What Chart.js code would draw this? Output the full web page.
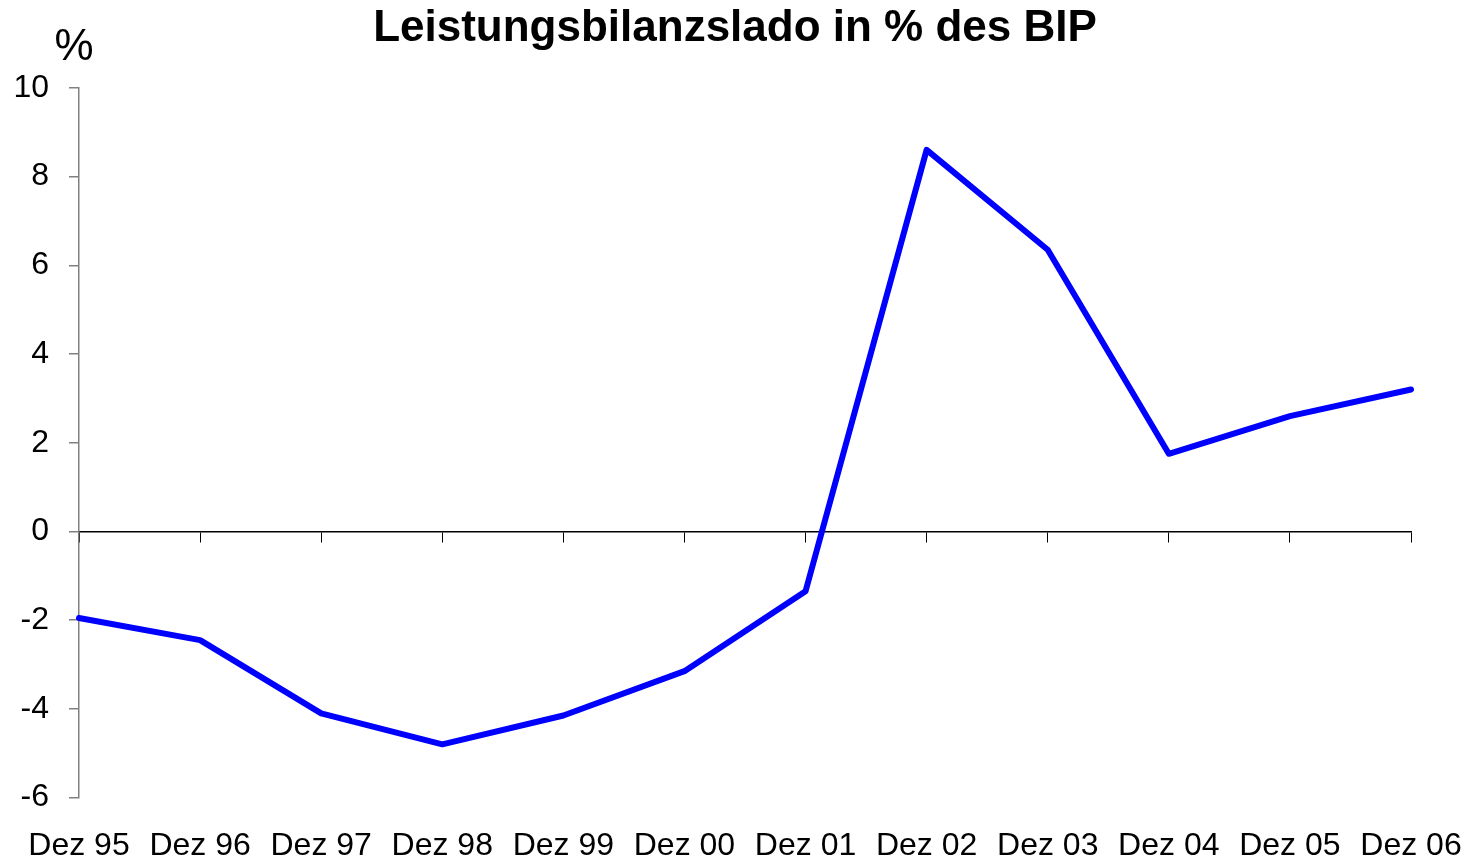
<!DOCTYPE html>
<html>
<head>
<meta charset="utf-8">
<script src="https://cdn.jsdelivr.net/npm/chart.js@4.4.1/dist/chart.umd.min.js"></script>
<style>
  html, body { margin: 0; padding: 0; background: #fff; }
  #wrap { width: 1470px; height: 865px; }
</style>
</head>
<body>
<div id="wrap"><canvas id="chart" width="1470" height="865"></canvas></div>
<script>
// Leistungsbilanzsaldo, Werte
const categories = ['Dez 95', 'Dez 96', 'Dez 97', 'Dez 98', 'Dez 99', 'Dez 00',
                    'Dez 01', 'Dez 02', 'Dez 03', 'Dez 04', 'Dez 05', 'Dez 06'];
const saldo = [-1.95, -2.45, -4.1, -4.8, -4.15, -3.15, -1.35, 8.6, 6.35, 1.75, 2.6, 3.2];
const yTicks = [-6, -4, -2, 0, 2, 4, 6, 8, 10];

const FONT = '"Liberation Sans", Arial, sans-serif';

// "%" über der y-Achse
const unitLabel = {
  id: 'unitLabel',
  afterDraw(chart) {
    const ctx = chart.ctx;
    ctx.save();
    ctx.font = '44px ' + FONT;
    ctx.fillStyle = '#000';
    ctx.textAlign = 'center';
    ctx.textBaseline = 'middle';
    ctx.fillText('%', chart.chartArea.left - 5, chart.chartArea.top - 40);
    ctx.restore();
  }
};

new Chart(document.getElementById('chart'), {
  type: 'line',
  data: {
    labels: categories,
    datasets: [{
      data: saldo,
      borderColor: '#0000FF',
      borderWidth: 6,
      pointRadius: 0,
      tension: 0,
      borderJoinStyle: 'round',
      borderCapStyle: 'round',
      xAxisID: 'x',
      yAxisID: 'y'
    }]
  },
  options: {
    responsive: false,
    animation: false,
    layout: { padding: 0 },
    plugins: {
      legend: { display: false },
      tooltip: { enabled: false },
      title: {
        display: true,
        text: 'Leistungsbilanzslado in % des BIP',
        color: '#000',
        font: { family: FONT, size: 44, weight: 'bold', lineHeight: 1.2 },
        padding: { top: 2, bottom: 33 }
      }
    },
    scales: {
      x: {
        type: 'category',
        position: 'bottom',
        offset: false,
        grid: { display: false, drawTicks: true, tickLength: 29 },
        border: { display: false },
        ticks: {
          color: '#000',
          font: { family: FONT, size: 32 },
          padding: 0,
          maxRotation: 0,
          autoSkip: false
        },
        afterFit(scale) { scale.paddingRight = 59; }
      },
      x0: {
        type: 'category',
        position: { y: 0 },
        offset: false,
        grid: { drawOnChartArea: false, drawTicks: true, tickLength: 10, color: '#000', lineWidth: 1 },
        border: { display: true, color: '#000', width: 1.5 },
        ticks: { display: false }
      },
      y: {
        min: -6,
        max: 10,
        position: 'left',
        afterBuildTicks(scale) { scale.ticks = yTicks.map(v => ({ value: v })); },
        afterFit(scale) { scale.width = 79; },
        grid: { drawOnChartArea: false, drawTicks: true, tickLength: 10, color: '#808080', lineWidth: 1.5 },
        border: { display: true, color: '#808080', width: 1.5 },
        ticks: {
          color: '#000',
          font: { family: FONT, size: 32 },
          padding: 20
        }
      }
    }
  },
  plugins: [unitLabel]
});
</script>
</body>
</html>
